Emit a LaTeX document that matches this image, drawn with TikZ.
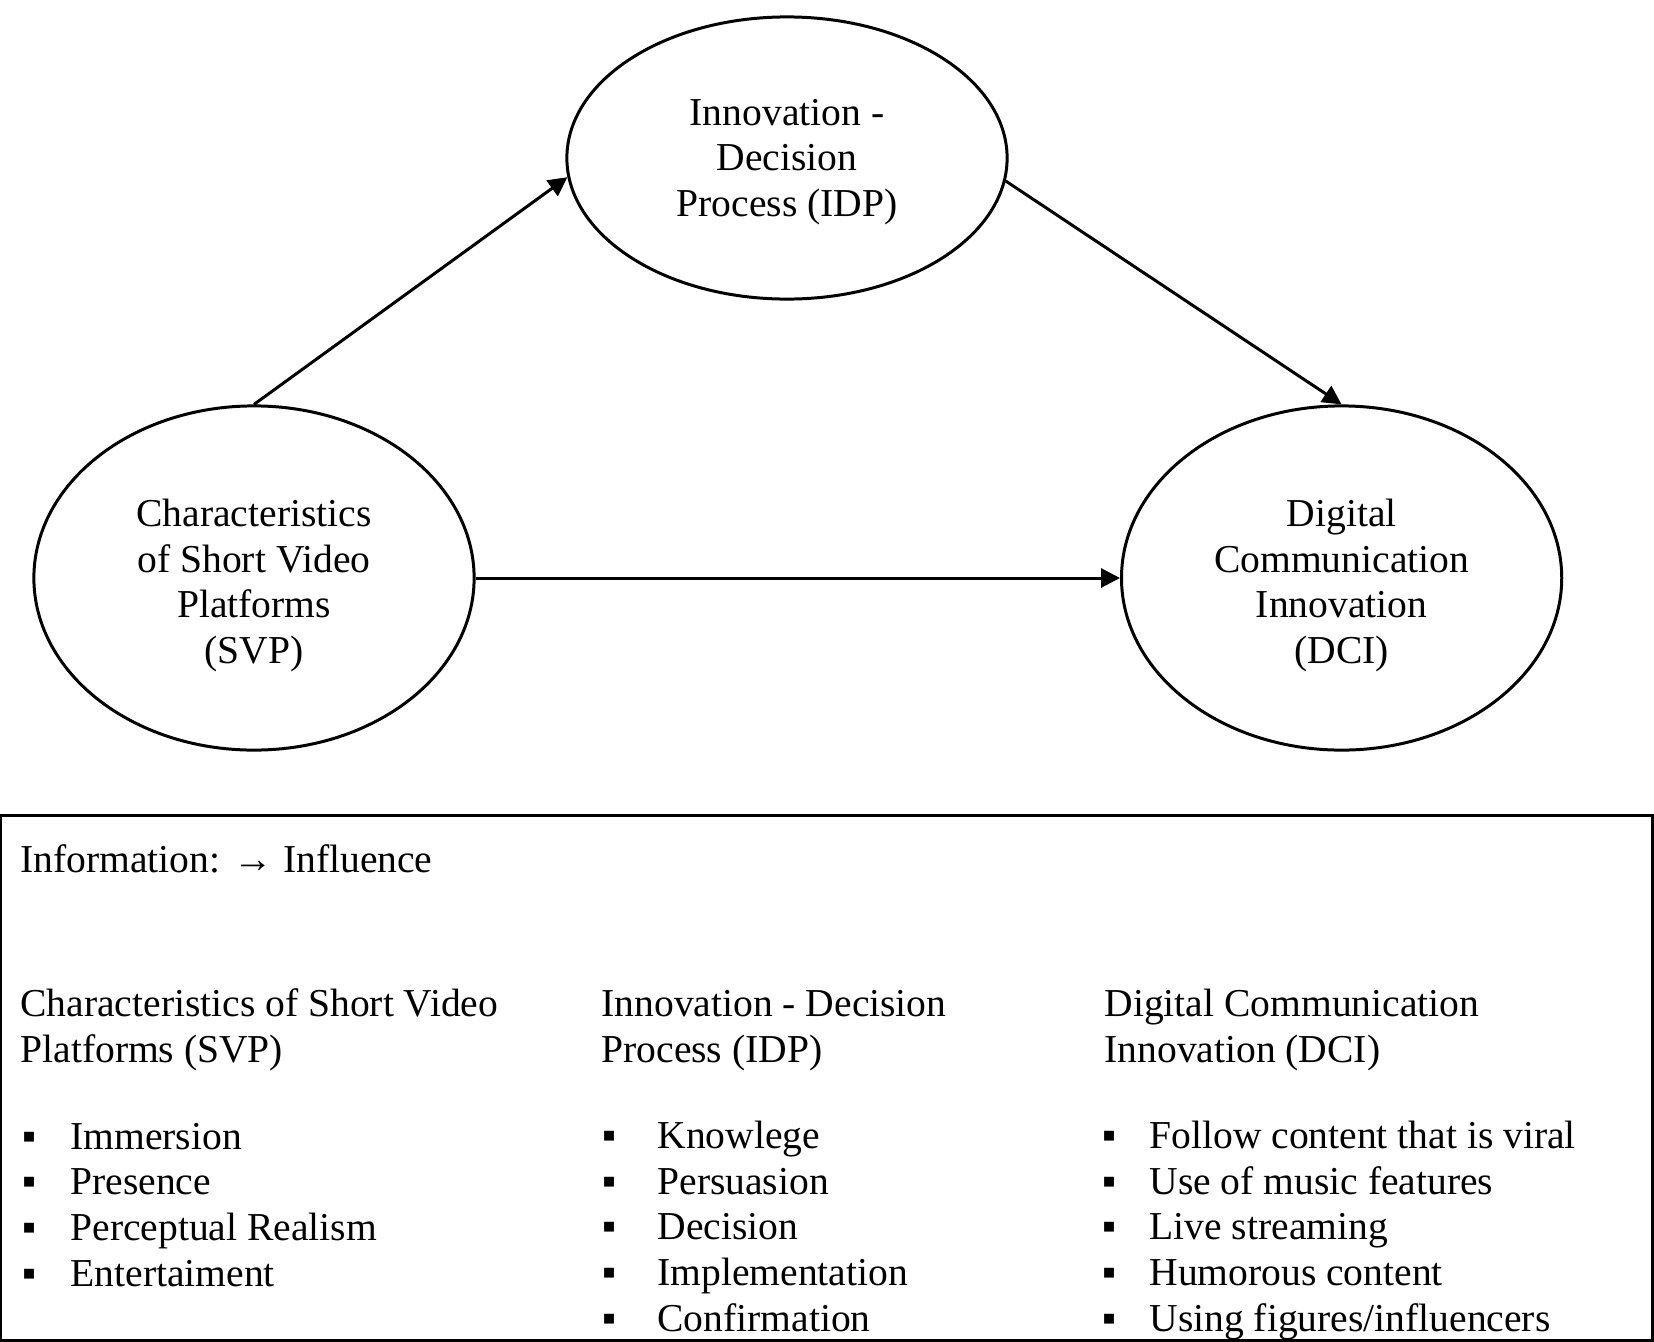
\documentclass[tikz,border=0pt]{standalone}
\usepackage{fontspec}
\setmainfont{Liberation Serif}
\usetikzlibrary{arrows.meta, positioning, shapes.geometric}

% one bullet line of the legend
\newcommand{\itm}[2][0.48cm]{\makebox[#1][l]{▪}#2}

\begin{document}
\begin{tikzpicture}[
    x=0.01cm, y=-0.01cm,
    >={Triangle[length=5.4pt, width=5.4pt]},
    line width=0.85pt,
    every node/.style={font=\fontsize{11.25}{12.95}\selectfont},
    var/.style={draw, ellipse, minimum width=4.4cm, align=center, inner sep=0pt},
    txt/.style={anchor=base west, align=left, inner sep=0pt}
]

% page size
\useasboundingbox (0,0) rectangle (1654,1342);

% constructs
\node[var, minimum height=3.44cm, text height=51pt] (svp) at (254,578) {Characteristics\\of Short Video\\Platforms\\(SVP)};
\node[var, minimum height=3.44cm, text height=51pt, right=6.44cm of svp] (dci) {Digital\\Communication\\Innovation\\(DCI)};
\node[var, minimum height=2.82cm, text height=35.6pt] (idp) at (787,158) {Innovation -\\Decision\\Process (IDP)};

% paths
\draw[->] (svp.north) -- (idp.185);
\draw[->] (idp.354) -- (dci.north);
\draw[->] (svp.east) -- (dci.west);

% legend box
\draw (1,815) rectangle (1652,1340);
\node[txt] (info) at (19,872) {Information: → Influence};

% column headings (base = last line)
\node[txt] (svphead) at (19,1062) {Characteristics of Short Video\\Platforms (SVP)};
\node[txt] (idphead) at (600,1062) {Innovation - Decision\\Process (IDP)};
\node[txt] (dcihead) at (1103,1062) {Digital Communication\\Innovation (DCI)};

% indicators
\node[txt] (svplist) at (21,1286) {\itm{Immersion}\\\itm{Presence}\\\itm{Perceptual Realism}\\\itm{Entertaiment}};
\node[txt] (idplist) at (601,1331) {\itm[0.55cm]{Knowlege}\\\itm[0.55cm]{Persuasion}\\\itm[0.55cm]{Decision}\\\itm[0.55cm]{Implementation}\\\itm[0.55cm]{Confirmation}};
\node[txt] (dcilist) at (1101,1331) {\itm[0.47cm]{Follow content that is viral}\\\itm[0.47cm]{Use of music features}\\\itm[0.47cm]{Live streaming}\\\itm[0.47cm]{Humorous content}\\\itm[0.47cm]{Using figures/influencers}};

\end{tikzpicture}
\end{document}
